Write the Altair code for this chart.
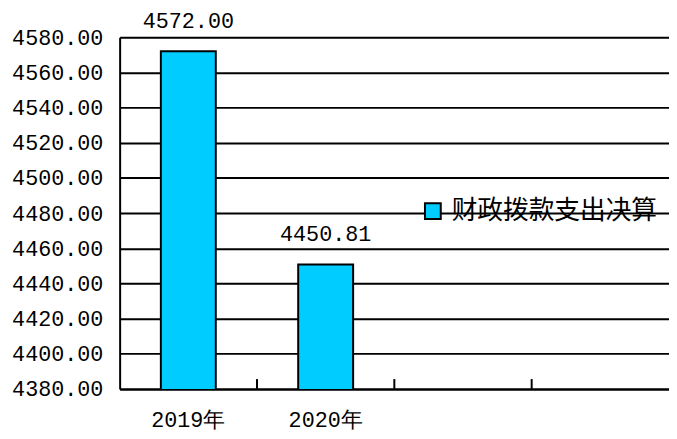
import altair as alt
import pandas as pd

categories = ["2019年", "2020年", "_3", "_4"]
bar_categories = ["2019年", "2020年"]
values = [4572.00, 4450.81]
series_name = "财政拨款支出决算"
tick_categories = ["2020年", "_3", "_4"]
y_domain = [4380, 4580]
y_ticks = [4380, 4400, 4420, 4440, 4460, 4480, 4500, 4520, 4540, 4560, 4580]

bars_df = pd.DataFrame({"cat": bar_categories, "value": values, "series": [series_name] * len(values)})
ticks_df = pd.DataFrame({"cat": tick_categories})

W, H = 556, 356
num_font = "Liberation Mono"

x_scale = alt.Scale(domain=categories, paddingInner=0, paddingOuter=0)
y_scale = alt.Scale(domain=y_domain, zero=False, nice=False)

x_axis = alt.Axis(
    title=None, labelAngle=0, ticks=False, domainColor="black", domainWidth=2,
    labelFont=num_font, labelFontSize=22, labelColor="black", labelPadding=21,
    labelOverlap=False, labelBound=False,
    labelExpr="substring(datum.value,0,1)=='_' ? '' : datum.value",
)
y_axis = alt.Axis(
    title=None, values=y_ticks, format=".2f", ticks=False, tickCount=11,
    grid=True, gridColor="black", gridWidth=2, gridOpacity=1,
    domainColor="black", domainWidth=2, labelOverlap=False, labelBound=False,
    labelFont=num_font, labelFontSize=22, labelColor="black", labelPadding=17,
)

base = alt.Chart(bars_df).encode(
    x=alt.X("cat:N", scale=x_scale, sort=categories, axis=x_axis),
    y=alt.Y("value:Q", scale=y_scale, axis=y_axis),
)

bars = base.mark_bar(
    clip=True, stroke="black", strokeWidth=2, width={"band": 0.4}
).encode(
    color=alt.Color(
        "series:N",
        scale=alt.Scale(range=["#00CCFF"]),
        legend=alt.Legend(
            title=None, orient="none", legendX=304, legendY=163,
            symbolType="square", symbolSize=256, symbolStrokeColor="black",
            symbolStrokeWidth=2, symbolFillColor="#00CCFF", symbolOpacity=1,
            labelFontSize=26, labelFont="Noto Sans CJK SC", labelColor="black",
            labelLimit=400, symbolOffset=0, labelOffset=6,
        ),
    ),
)

labels = base.mark_text(
    baseline="middle", dy=-31, fontSize=22, font=num_font, color="black"
).encode(
    text=alt.Text("value:Q", format=".2f"),
)

ticks = alt.Chart(ticks_df).mark_rule(color="black", strokeWidth=2).encode(
    x=alt.X("cat:N", bandPosition=0, scale=x_scale, sort=categories, axis=x_axis),
    y=alt.value(H),
    y2=alt.value(H - 10),
)

chart = alt.layer(bars, labels, ticks).properties(
    width=W, height=H,
    padding={"left": 113, "top": 27, "right": 0, "bottom": 42},
    autosize=alt.AutoSizeParams(type="none"),
).configure_view(stroke=None).configure(background="white")

chart.save("out.html", embed_options={"renderer": "svg", "actions": False})
